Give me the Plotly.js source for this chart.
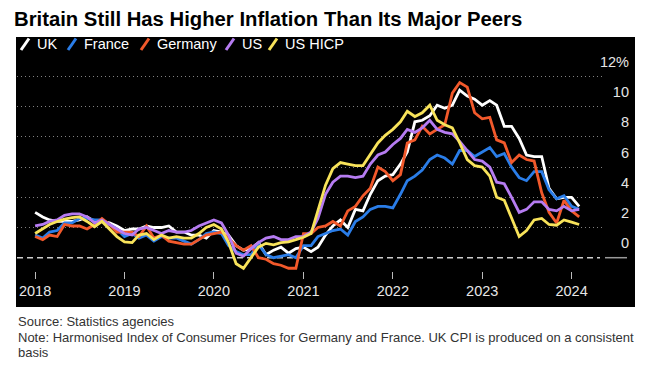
<!DOCTYPE html>
<html>
<head>
<meta charset="utf-8">
<script src="https://cdn.plot.ly/plotly-3.0.1.min.js"></script>
<style>
html,body{margin:0;padding:0;background:#ffffff;}
#chart{width:652px;height:367px;}
</style>
</head>
<body>
<div id="chart"></div>
<script>
// ---------- DATA (monthly, Jan 2018 - Feb 2024, % y/y) ----------
const firstYear = 2018, lastYear = 2024, lastMonthOfLastYear = 2;
const months = [];
for (let y = firstYear; y <= lastYear; y++) {
  for (let m = 1; m <= 12; m++) {
    if (y === lastYear && m > lastMonthOfLastYear) break;
    months.push(y + '-' + String(m).padStart(2, '0') + '-01');
  }
}

const seriesNames = ['UK', 'France', 'Germany', 'US', 'US HICP'];
const seriesColors = ['#ffffff', '#2a7de8', '#f2592b', '#b67cf2', '#f8e35a'];

const uk = [
  3.0, 2.7, 2.5, 2.4, 2.4, 2.4, 2.5, 2.7, 2.4, 2.4, 2.3, 2.1,
  1.8, 1.9, 1.9, 2.1, 2.0, 2.0, 2.1, 1.7, 1.7, 1.5, 1.5, 1.3,
  1.8, 1.7, 1.5, 0.8, 0.5, 0.6, 1.0, 0.2, 0.5, 0.7, 0.3, 0.6,
  0.7, 0.4, 0.7, 1.5, 2.1, 2.5, 2.0, 3.2, 3.1, 4.2, 5.1, 5.4,
  5.5, 6.2, 7.0, 9.0, 9.1, 9.4, 10.1, 9.9, 10.1, 11.1, 10.7, 10.5,
  10.1, 10.4, 10.1, 8.7, 8.7, 7.9, 6.8, 6.7, 6.7, 4.6, 3.9, 4.0,
  4.0, 3.4
];
const france = [
  1.5, 1.3, 1.7, 1.8, 2.3, 2.3, 2.6, 2.6, 2.5, 2.5, 2.2, 1.9,
  1.4, 1.6, 1.3, 1.5, 1.1, 1.4, 1.3, 1.3, 1.1, 0.9, 1.2, 1.6,
  1.7, 1.6, 0.8, 0.4, 0.2, 0.2, 0.9, 0.2, 0.0, 0.1, 0.2, 0.0,
  0.8, 0.8, 1.4, 1.6, 1.8, 1.9, 1.5, 2.4, 2.7, 3.2, 3.4, 3.4,
  3.3, 4.2, 5.1, 5.4, 5.8, 6.5, 6.8, 6.6, 6.2, 7.1, 7.1, 6.7,
  7.0, 7.3, 6.7, 6.9, 6.0, 5.3, 5.1, 5.7, 5.7, 4.5, 3.9, 4.1,
  3.4, 3.2
];
const germany = [
  1.4, 1.2, 1.5, 1.4, 2.2, 2.1, 2.1, 1.9, 2.2, 2.6, 2.2, 1.7,
  1.7, 1.7, 1.4, 2.1, 1.3, 1.5, 1.1, 1.0, 0.9, 0.9, 1.2, 1.5,
  1.6, 1.7, 1.3, 0.8, 0.5, 0.8, 0.0, -0.1, -0.4, -0.5, -0.7, -0.7,
  1.6, 1.6, 2.0, 2.1, 2.4, 2.1, 3.1, 3.4, 4.1, 4.6, 6.0, 5.7,
  5.1, 5.5, 7.6, 7.8, 8.7, 8.2, 8.5, 8.8, 10.9, 11.6, 11.3, 9.6,
  9.2, 9.3, 7.8, 7.6, 6.3, 6.8, 6.5, 6.4, 4.3, 3.0, 2.3, 3.8,
  3.1, 2.7
];
const us = [
  2.1, 2.2, 2.4, 2.5, 2.8, 2.9, 2.9, 2.7, 2.3, 2.5, 2.2, 1.9,
  1.6, 1.5, 1.9, 2.0, 1.8, 1.6, 1.8, 1.7, 1.7, 1.8, 2.1, 2.3,
  2.5, 2.3, 1.5, 0.3, 0.1, 0.6, 1.0, 1.3, 1.4, 1.2, 1.2, 1.4,
  1.4, 1.7, 2.6, 4.2, 5.0, 5.4, 5.4, 5.3, 5.4, 6.2, 6.8, 7.0,
  7.5, 7.9, 8.5, 8.3, 8.6, 9.1, 8.5, 8.3, 8.2, 7.7, 7.1, 6.5,
  6.4, 6.0, 5.0, 4.9, 4.0, 3.0, 3.2, 3.7, 3.7, 3.2, 3.1, 3.4,
  3.1, 3.2
];
const usHicp = [
  1.6, 1.9, 2.2, 2.4, 2.55, 2.65, 2.7, 2.4, 2.05, 2.4, 1.9, 1.4,
  1.05, 1.0, 1.5, 1.6, 1.2, 1.5, 1.3, 1.4, 1.3, 1.3, 1.6, 2.0,
  2.2, 1.9, 1.0, -0.4, -0.7, 0.0, 0.7, 0.95, 0.85, 1.0, 1.05, 1.2,
  1.35, 1.6, 3.2, 4.8, 5.9, 6.3, 6.2, 6.1, 6.1, 6.8, 7.6, 8.1,
  8.5, 9.0, 9.7, 9.35, 9.6, 10.1, 9.1, 8.8, 8.6, 7.6, 6.5, 6.1,
  6.0, 5.4, 4.0, 3.8, 2.6, 1.4, 1.8, 2.5, 2.6, 2.2, 2.15, 2.5,
  2.35, 2.2
];
const seriesValues = [uk, france, germany, us, usHicp];

const yTickVals = [0, 2, 4, 6, 8, 10, 12];
const yTickText = ['0', '2', '4', '6', '8', '10', '12%'];

const titleText = 'Britain Still Has Higher Inflation Than Its Major Peers';
const sourceText = 'Source: Statistics agencies';
const noteLines = ['Note: Harmonised Index of Consumer Prices for Germany and France. UK CPI is produced on a consistent', 'basis'];

// ---------- LAYOUT GEOMETRY ----------
const W = 652, H = 367;
const L = 17, R = 20, T = 60, B = 96;
const PW = W - L - R, PH = H - T - B;
const px = X => (X - L) / PW;
const py = Y => (H - B - Y) / PH;

const yRange = [-0.881, 13.093];
const labelShift = 0.97;

const sans = 'Liberation Sans, Arial, sans-serif';
const axisFontSize = 14.5;

const traces = seriesNames.map((name, i) => ({
  type: 'scatter', mode: 'lines', name: name,
  x: months, y: seriesValues[i],
  line: { color: seriesColors[i], width: 2.8 },
  showlegend: false, hoverinfo: 'skip'
}));
// invisible helper trace so the right-hand label axis (y2) is drawn
traces.unshift({
  type: 'scatter', mode: 'lines', x: months, y: uk, yaxis: 'y2',
  line: { color: 'rgba(0,0,0,0)', width: 0 }, showlegend: false, hoverinfo: 'skip'
});

const shapes = [
  { type: 'rect', xref: 'paper', yref: 'paper', x0: px(16), x1: px(635), y0: py(307), y1: py(37),
    fillcolor: '#000000', line: { width: 0 }, layer: 'below' },
  { type: 'line', xref: 'paper', yref: 'y', x0: px(17), x1: px(600), y0: 0, y1: 0,
    line: { color: '#cfcfcf', width: 1.5, dash: '6px,4px' }, layer: 'below' },
  { type: 'line', xref: 'paper', yref: 'y', x0: px(605), x1: px(627), y0: 0, y1: 0,
    line: { color: '#9a9a9a', width: 1.5 }, layer: 'below' }
];

const legendTextX = [35, 82, 155, 240, 283];
const annotations = [];
seriesNames.forEach((name, i) => {
  shapes.push({ type: 'line', xref: 'paper', yref: 'paper',
    x0: px(legendTextX[i] - 14), y0: py(50), x1: px(legendTextX[i] - 6), y1: py(38.5),
    line: { color: seriesColors[i], width: 3 } });
  annotations.push({ xref: 'paper', yref: 'paper', x: px(legendTextX[i]), y: py(44.5),
    xanchor: 'left', yanchor: 'middle', showarrow: false, text: name,
    font: { family: sans, size: axisFontSize, color: '#ffffff' } });
});
annotations.push({ xref: 'paper', yref: 'paper', x: px(16), y: py(321), xanchor: 'left', yanchor: 'middle',
  showarrow: false, text: sourceText, font: { family: sans, size: 13, color: '#333333' } });
noteLines.forEach((t, i) => annotations.push({ xref: 'paper', yref: 'paper', x: px(16), y: py(337 + 15 * i),
  xanchor: 'left', yanchor: 'middle', showarrow: false, text: t, font: { family: sans, size: 13, color: '#333333' } }));

const layout = {
  width: W, height: H,
  margin: { l: L, r: R, t: T, b: B, pad: 0 },
  paper_bgcolor: '#ffffff', plot_bgcolor: '#000000',
  showlegend: false,
  title: { text: titleText, x: 14 / W, xanchor: 'left', xref: 'container',
    y: 1 - 19 / H, yanchor: 'middle', yref: 'container',
    font: { family: sans, size: 20.3, weight: 'bold', color: '#000000' } },
  xaxis: {
    type: 'date', domain: [0, px(605)], range: ['2017-10-19', '2024-05-16 12:00'],
    tick0: '2018-01-01', dtick: 'M12', tickformat: '%Y',
    ticks: 'outside', ticklen: 7, tickwidth: 1, tickcolor: '#bbbbbb',
    showgrid: false, zeroline: false, showline: false, fixedrange: true,
    tickfont: { family: sans, size: axisFontSize, color: '#e6e6e6' }
  },
  yaxis: {
    range: yRange, tickvals: yTickVals.filter(v => v !== 0), showticklabels: false, ticks: '',
    showgrid: true, gridcolor: '#808080', gridwidth: 1, griddash: '1px,3px',
    zeroline: false, showline: false, fixedrange: true
  },
  yaxis2: {
    overlaying: 'y', anchor: 'free', position: 1, side: 'left',
    range: [yRange[0] - labelShift, yRange[1] - labelShift],
    tickvals: yTickVals, ticktext: yTickText, ticks: '', ticklabelstandoff: 3,
    showgrid: false, zeroline: false, showline: false, fixedrange: true,
    tickfont: { family: sans, size: axisFontSize, color: '#e6e6e6' }
  },
  shapes: shapes,
  annotations: annotations
};

Plotly.newPlot('chart', traces, layout, { staticPlot: true, displayModeBar: false });
</script>
</body>
</html>
